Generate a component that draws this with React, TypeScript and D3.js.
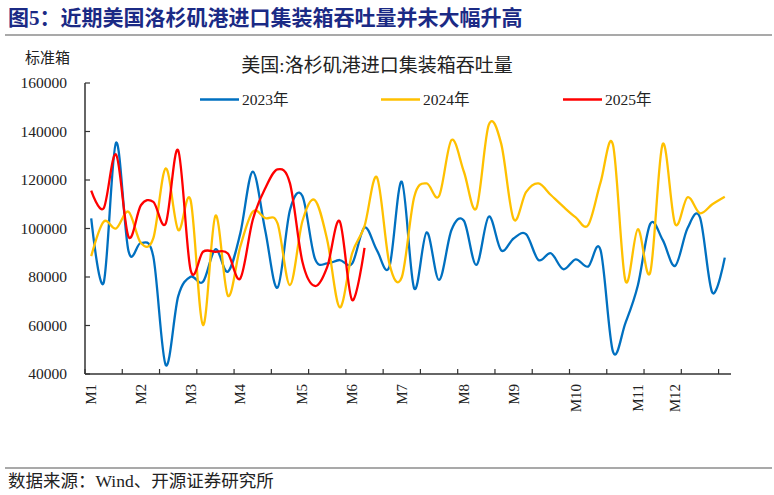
import React from "react";
import * as d3 from "d3";

const categories: string[] = [
  "M1", "", "", "", "M2", "", "", "", "M3", "", "", "", "M4", "", "", "", "", "M5", "", "", "", "M6", "", "", "", "M7",
  "", "", "", "", "M8", "", "", "", "M9", "", "", "", "", "M10", "", "", "", "", "M11", "", "", "M12", "", "", "", "",
];

const series2023: number[] = [
  104200, 77600, 135400, 90700, 94100, 88400, 43700, 72000, 80100, 78000, 91400, 82200, 98000,
  123400, 99400, 75600, 107600, 113400, 87700, 85600, 87000, 85500, 100400, 91000, 84200, 119300,
  75300, 98400, 78800, 99400, 103200, 85000, 104900, 91000, 95900, 97700, 87000, 89800, 83200,
  87300, 84300, 91100, 49200, 61000, 76500, 101900, 95300, 84600, 100100, 104600, 73500, 88000,
];

const series2024: number[] = [
  88600, 102800, 100000, 106900, 94000, 96000, 124800, 99400, 111700, 60200, 105300, 72300, 92500,
  106900, 104300, 102100, 76700, 103000, 111700, 95200, 67500, 89700, 101000, 121100, 85600, 79900,
  113000, 118600, 113400, 136500, 123400, 108300, 142700, 135000, 103900, 115000, 118600, 113800, 109000,
  104600, 101400, 119000, 134500, 78500, 99700, 81900, 134800, 101900, 112900, 106300, 110000, 113100,
];

const series2025: number[] = [
  115600, 108300, 130500, 96600, 109600, 111000, 102100, 132300, 82900, 90400, 90400, 89700, 79400,
  103500, 116500, 124400, 118600, 86300, 76300, 84200, 103000, 70500, 92000,
];

const seriesNames: string[] = ["2023年", "2024年", "2025年"];
const seriesColors: string[] = ["#0070C0", "#FFC000", "#FF0000"];
const yTicks: number[] = [40000, 60000, 80000, 100000, 120000, 140000, 160000];

const W = 774;
const H = 495;
const serif = '"Liberation Serif", "Times New Roman", "Noto Sans CJK SC", serif';

export default function App() {
  const x = d3
    .scaleBand<number>()
    .domain(categories.map((_, i) => i))
    .range([85, 731])
    .paddingInner(0)
    .paddingOuter(0);
  const bw = x.bandwidth();
  const y = d3.scaleLinear().domain([40000, 160000]).range([374, 83]);
  const line = d3
    .line<number>()
    .x((_, i) => (x(i) as number) + bw / 2)
    .y((d) => y(d))
    .curve(d3.curveCardinal.tension(0));

  const allSeries = [series2023, series2024, series2025];
  const tickIdx = categories.map((_, i) => i).filter((i) => i % 3 === 0);
  const legendX = [200, 381, 563];

  return (
    <svg
      width={W}
      height={H}
      style={{ position: "absolute", left: 0, top: 0, background: "#fff" }}
      fontFamily={serif}
    >
      <rect x={0} y={0} width={W} height={H} fill="#fff" />
      <text
        x={8}
        y={25}
        fontSize={21}
        fontWeight="bold"
        fill="#1b2a85"
        fontFamily='"Liberation Serif", "Noto Sans CJK SC", serif'
      >
        图5：近期美国洛杉矶港进口集装箱吞吐量并未大幅升高
      </text>
      <line x1={5} x2={772} y1={35} y2={35} stroke="#555" strokeWidth={1.2} />

      <text x={25} y={63} fontSize={15} fill="#222">标准箱</text>
      <text x={377} y={72} fontSize={19} fill="#222" textAnchor="middle">
        美国:洛杉矶港进口集装箱吞吐量
      </text>

      {seriesNames.map((n, k) => (
        <g key={n}>
          <line
            x1={legendX[k]}
            x2={legendX[k] + 39}
            y1={99.5}
            y2={99.5}
            stroke={seriesColors[k]}
            strokeWidth={2.5}
          />
          <text x={legendX[k] + 42} y={105} fontSize={15.5} fill="#222">
            {n}
          </text>
        </g>
      ))}

      {allSeries.map((s, k) => (
        <path key={k} d={line(s) || ""} fill="none" stroke={seriesColors[k]} strokeWidth={2.3} />
      ))}

      <line x1={85} x2={85} y1={83} y2={374} stroke="#333" strokeWidth={1.5} />
      <line x1={85} x2={731} y1={374} y2={374} stroke="#333" strokeWidth={1.5} />
      {yTicks.map((t) => (
        <g key={t}>
          <line x1={85} x2={90} y1={y(t)} y2={y(t)} stroke="#333" strokeWidth={1.2} />
          <text x={67} y={y(t) + 5} fontSize={15.5} textAnchor="end" fill="#222">
            {t}
          </text>
        </g>
      ))}
      {tickIdx.map((i) => (
        <line
          key={i}
          x1={x(i) as number}
          x2={x(i) as number}
          y1={374}
          y2={369}
          stroke="#333"
          strokeWidth={1.2}
        />
      ))}
      {categories.map((c, i) =>
        c ? (
          <text
            key={i}
            transform={`translate(${(x(i) as number) + bw / 2 + 5},384) rotate(-90)`}
            fontSize={15}
            textAnchor="end"
            fill="#222"
          >
            {c}
          </text>
        ) : null
      )}

      <line x1={5} x2={772} y1={468} y2={468} stroke="#555" strokeWidth={1.2} />
      <text x={8} y={487} fontSize={17.5} fill="#222">
        数据来源：Wind、开源证券研究所
      </text>
    </svg>
  );
}
